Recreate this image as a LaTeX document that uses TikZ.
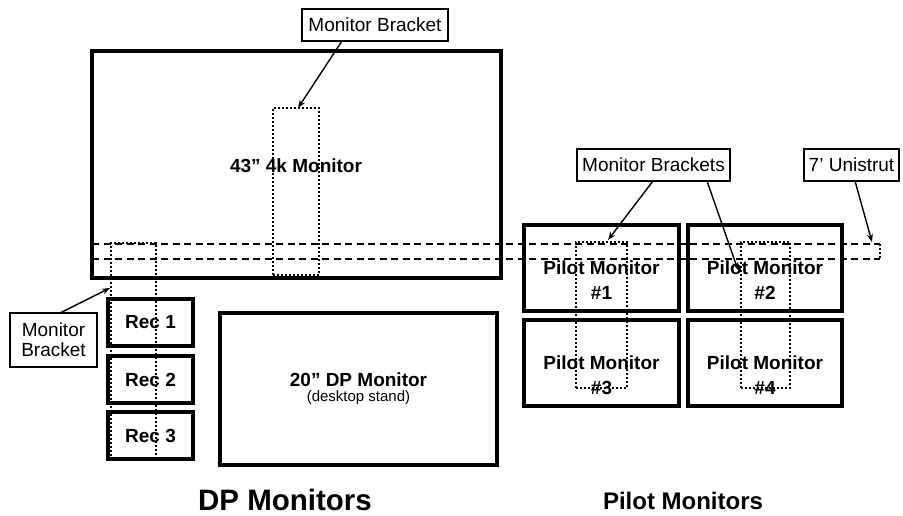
\documentclass[tikz,border=0pt]{standalone}
\usepackage{fontspec}
\setmainfont{Liberation Sans}
\usetikzlibrary{arrows.meta}
\tikzset{
  monbox/.style={draw=black, line width=3.8pt, rectangle, inner sep=0pt},
  bktbox/.style={draw=black, line width=2.2pt, dash pattern=on 2pt off 2pt, rectangle, inner sep=0pt},
  lblbox/.style={draw=black, line width=1.3pt, rectangle, inner sep=0pt, font=\fontsize{19}{21}\selectfont, align=center},
  montext/.style={font=\bfseries\fontsize{19}{25}\selectfont, align=center},
  strut/.style={line width=2pt, dash pattern=on 7pt off 4.5pt},
  ptr/.style={line width=1.4pt, -{Stealth[length=8pt,width=6pt]}},
}
\begin{document}
\begin{tikzpicture}[x=1pt,y=-1pt]
\useasboundingbox (0,0) rectangle (903,516);
% 43in monitor
\node[monbox, minimum width=409pt, minimum height=227pt] (big) at (296.5,164.5) {};
\node[montext] (bigt) at (296,166) {43” 4k Monitor};
\node[bktbox, minimum width=46pt, minimum height=167pt] (bkt1) at (296,191.5) {};
\node[lblbox, minimum width=146pt, minimum height=32pt] (lbl1) at (375,25) {Monitor Bracket};
\coordinate (a1s) at (342,41);
\coordinate (a1e) at (298,108);
\draw[ptr] (a1s) -- (a1e);
% unistrut
\coordinate (u1) at (92,244);
\coordinate (u2) at (880,244);
\coordinate (u3) at (880,259);
\coordinate (u4) at (92,259);
\draw[strut] (u1) -- (u2);
\draw[strut] (u4) -- (u3);
\draw[line width=2.2pt, dash pattern=on 2pt off 2pt] (u2) -- (u3);
% rec monitors
\node[bktbox, minimum width=45pt, minimum height=215pt] (bkt0) at (133.5,350.5) {};
\node[monbox, minimum width=85pt, minimum height=47pt, montext] (rec1) at (150.5,322.5) {Rec 1};
\node[monbox, minimum width=85pt, minimum height=47pt, montext] (rec2) at (150.5,379.5) {Rec 2};
\node[monbox, minimum width=85pt, minimum height=47pt, montext] (rec3) at (150.5,435.5) {Rec 3};
\node[lblbox, minimum width=87pt, minimum height=54pt] (lbl0) at (53.5,340) {Monitor\\[-1pt]Bracket};
\coordinate (a0s) at (60,313);
\coordinate (a0e) at (110,288);
\draw[ptr] (a0s) -- (a0e);
% 20in DP monitor
\node[monbox, minimum width=277pt, minimum height=152pt] (dp) at (358.5,389) {};
\node[montext] (dpt) at (358.5,380) {20” DP Monitor};
\node[font=\fontsize{15}{17}\selectfont] (dps) at (358.5,398) {(desktop stand)};
% pilot monitors
\node[monbox, minimum width=155pt, minimum height=86pt] (p1) at (601.5,268) {};
\node[monbox, minimum width=154pt, minimum height=86pt] (p2) at (765,268) {};
\node[monbox, minimum width=155pt, minimum height=86pt] (p3) at (601.5,363) {};
\node[monbox, minimum width=154pt, minimum height=86pt] (p4) at (765,363) {};
\node[bktbox, minimum width=51pt, minimum height=146pt] (bkt2) at (601.5,315) {};
\node[bktbox, minimum width=49pt, minimum height=146pt] (bkt3) at (765.5,315) {};
\node[montext] (p1t) at (601.5,280) {Pilot Monitor\\\#1};
\node[montext] (p2t) at (765,280) {Pilot Monitor\\\#2};
\node[montext] (p3t) at (601.5,375) {Pilot Monitor\\\#3};
\node[montext] (p4t) at (765,375) {Pilot Monitor\\\#4};
\node[lblbox, minimum width=153pt, minimum height=32pt] (lbl2) at (653.5,165) {Monitor Brackets};
\node[lblbox, minimum width=95pt, minimum height=32pt] (lbl3) at (851.5,165) {7’ Unistrut};
\coordinate (a2s) at (653,181);
\coordinate (a2e) at (608,240);
\coordinate (a3s) at (707,181);
\coordinate (a3e) at (738,270);
\coordinate (a4s) at (855,181);
\coordinate (a4e) at (872,242);
\draw[ptr] (a2s) -- (a2e);
\draw[ptr] (a3s) -- (a3e);
\draw[ptr] (a4s) -- (a4e);
% titles
\node[font=\bfseries\fontsize{29.5}{31}\selectfont] (t1) at (285,500) {DP Monitors};
\node[font=\bfseries\fontsize{24}{26}\selectfont] (t2) at (683,501) {Pilot Monitors};
\end{tikzpicture}
\end{document}
